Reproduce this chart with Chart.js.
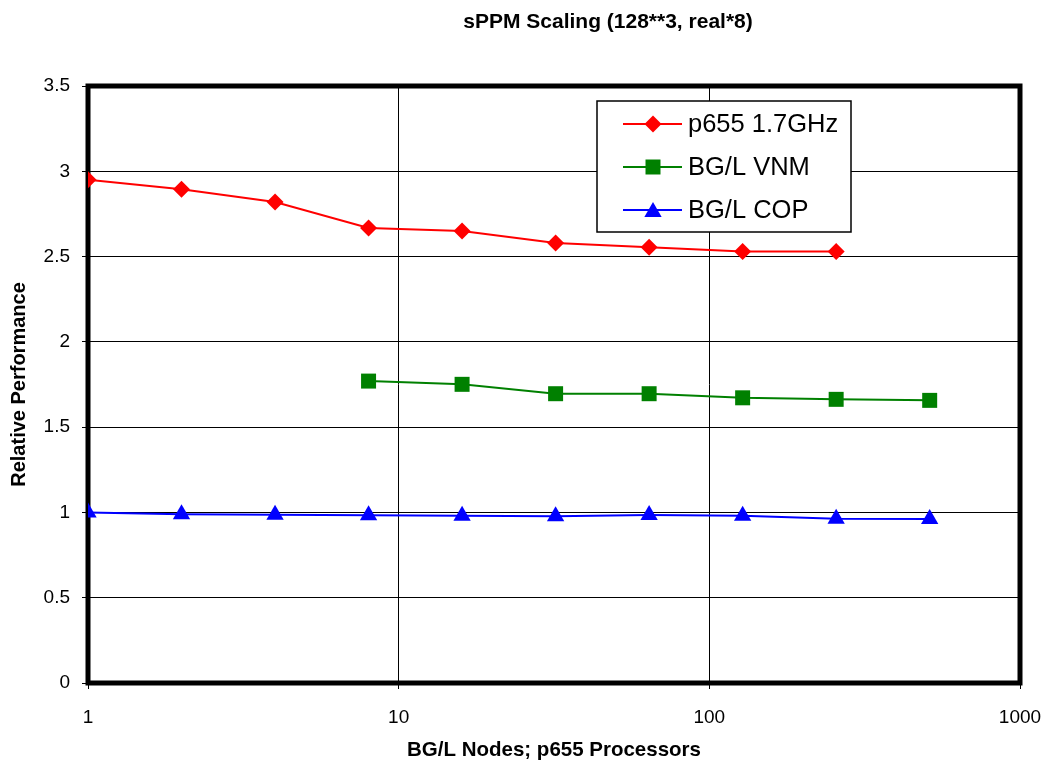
<!DOCTYPE html>
<html>
<head>
<meta charset="utf-8">
<script src="https://cdn.jsdelivr.net/npm/chart.js@4"></script>
<style>
html,body{margin:0;padding:0;background:#fff;}
#wrap{width:1048px;height:763px;position:relative;}
</style>
</head>
<body>
<div id="wrap"><canvas id="c" width="1048" height="763"></canvas></div>
<script>
const chartTitle = 'sPPM Scaling (128**3, real*8)';
const xTitle = 'BG/L Nodes; p655 Processors';
const yTitle = 'Relative Performance';
const seriesNames = ['p655 1.7GHz', 'BG/L VNM', 'BG/L COP'];
const p655X = [1, 2, 4, 8, 16, 32, 64, 128, 256];
const p655Values = [2.95, 2.895, 2.82, 2.667, 2.65, 2.58, 2.555, 2.53, 2.53];
const vnmX = [8, 16, 32, 64, 128, 256, 512];
const vnmValues = [1.77, 1.751, 1.696, 1.696, 1.672, 1.663, 1.657];
const copX = [1, 2, 4, 8, 16, 32, 64, 128, 256, 512];
const copValues = [1.0, 0.99, 0.986, 0.984, 0.981, 0.977, 0.985, 0.981, 0.963, 0.962];
const xTickValues = [1, 10, 100, 1000];
const yMin = 0, yMax = 3.5, yStep = 0.5;

const FONT = '"Liberation Sans", Arial, sans-serif';

function pts(xs, ys) { return xs.map((x, i) => ({x: x, y: ys[i]})); }

const datasets = [
  {label: seriesNames[0], data: pts(p655X, p655Values), borderColor: '#FF0000', backgroundColor: '#FF0000',
   pointStyle: 'rectRot', pointRadius: 8.5, borderWidth: 2, pointBorderWidth: 0},
  {label: seriesNames[1], data: pts(vnmX, vnmValues), borderColor: '#008000', backgroundColor: '#008000',
   pointStyle: 'rect', pointRadius: 10.6, borderWidth: 2, pointBorderWidth: 0},
  {label: seriesNames[2], data: pts(copX, copValues), borderColor: '#0000FF', backgroundColor: '#0000FF',
   pointStyle: 'triangle', pointRadius: 10, borderWidth: 2, pointBorderWidth: 0}
];

const framePlugin = {
  id: 'frame',
  beforeDatasetsDraw(chart) {
    const {ctx, chartArea: a} = chart;
    ctx.save();
    ctx.strokeStyle = '#000';
    ctx.lineWidth = 5;
    ctx.strokeRect(a.left, a.top, a.right - a.left, a.bottom - a.top);
    ctx.restore();
  },
  afterDraw(chart) {
    const ctx = chart.ctx;
    ctx.save();
    // title
    ctx.fillStyle = '#000';
    ctx.font = 'bold 21px ' + FONT;
    ctx.textAlign = 'center';
    ctx.textBaseline = 'alphabetic';
    ctx.fillText(chartTitle, 608, 28);
    // legend
    const bx = 597, by = 101, bw = 254, bh = 131;
    ctx.fillStyle = '#fff';
    ctx.fillRect(bx, by, bw, bh);
    ctx.strokeStyle = '#000';
    ctx.lineWidth = 1.5;
    ctx.strokeRect(bx, by, bw, bh);
    const rows = [124, 167, 210];
    chart.data.datasets.forEach((ds, i) => {
      const y = rows[i];
      ctx.strokeStyle = ds.borderColor;
      ctx.lineWidth = 2;
      ctx.beginPath();
      ctx.moveTo(623, y);
      ctx.lineTo(682, y);
      ctx.stroke();
      ctx.fillStyle = ds.backgroundColor;
      Chart.helpers.drawPoint(ctx, {pointStyle: ds.pointStyle, radius: ds.pointRadius, borderWidth: 0, rotation: 0}, 653, y + (ds.pointStyle === 'triangle' ? 2 : 0));
      ctx.fillStyle = '#000';
      ctx.font = '25.5px ' + FONT;
      ctx.textAlign = 'left';
      ctx.textBaseline = 'middle';
      ctx.fillText(ds.label, 688, y + 1);
    });
    ctx.restore();
  }
};

new Chart(document.getElementById('c'), {
  type: 'line',
  data: {datasets: datasets},
  options: {
    responsive: false,
    animation: false,
    layout: {padding: {top: 86, right: 28, left: 0, bottom: 0}},
    plugins: {legend: {display: false}, title: {display: false}, tooltip: {enabled: false}},
    elements: {line: {tension: 0}},
    scales: {
      x: {
        type: 'logarithmic',
        min: 1, max: 1000,
        afterBuildTicks(scale) { scale.ticks = xTickValues.map(v => ({value: v, major: true})); },
        afterFit(scale) { scale.height = 80; scale.paddingLeft = 0; scale.paddingRight = 0; },
        ticks: {
          callback: (v) => String(v),
          color: '#000', font: {family: FONT, size: 19}, padding: 17, maxRotation: 0, autoSkip: false
        },
        grid: {color: '#000', lineWidth: 1, tickLength: 6, drawTicks: true},
        border: {display: false},
        title: {display: true, text: xTitle, color: '#000', font: {family: FONT, size: 20.5, weight: 'bold'}, padding: {top: 0, bottom: 0}}
      },
      y: {
        type: 'linear',
        min: yMin, max: yMax,
        afterFit(scale) { scale.width = 88; scale.paddingTop = 0; scale.paddingBottom = 0; },
        ticks: {stepSize: yStep, callback: (v) => String(v), color: '#000', font: {family: FONT, size: 19}, padding: 12},
        grid: {color: '#000', lineWidth: 1, tickLength: 6, drawTicks: true},
        border: {display: false},
        title: {display: true, text: yTitle, color: '#000', font: {family: FONT, size: 20, weight: 'bold'}, padding: {top: 7, bottom: 0}}
      }
    }
  },
  plugins: [framePlugin]
});
</script>
</body>
</html>
